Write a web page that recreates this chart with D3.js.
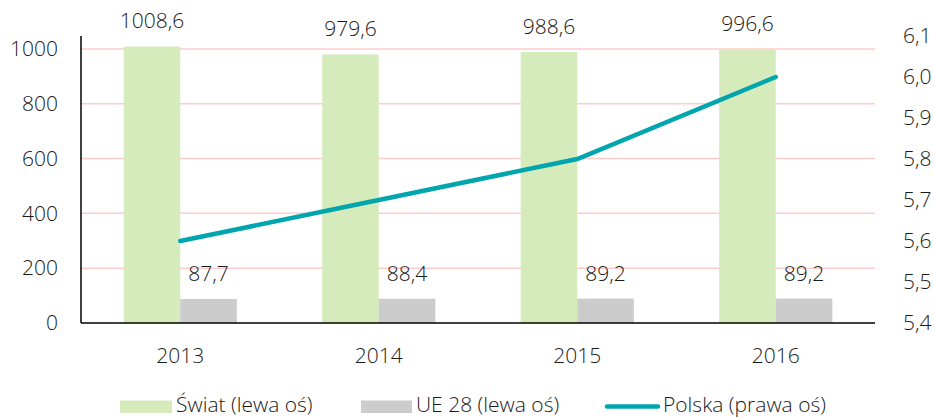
<!DOCTYPE html>
<html>
<head>
<meta charset="utf-8">
<script src="https://cdn.jsdelivr.net/npm/d3@7"></script>
<style>
  body { margin: 0; background: #fff; }
  text { font-family: "Open Sans", sans-serif; font-weight: 300; fill: #1a1a1a; }
</style>
</head>
<body>
<div id="chart"></div>
<script>
    const years = ['2013', '2014', '2015', '2016'];
    const swiat = [1008.6, 979.6, 988.6, 996.6];
    const ue28 = [87.7, 88.4, 89.2, 89.2];
    const polska = [5.6, 5.7, 5.8, 6.0];
    const leftTicks = [0, 200, 400, 600, 800, 1000];
    const rightTicks = [5.4, 5.5, 5.6, 5.7, 5.8, 5.9, 6.0, 6.1];

    const width = 934, height = 418;
    const margin = { top: 36, right: 59, bottom: 95, left: 81 };
    const fs = 21;

    const svg = d3.select('#chart')
      .append('svg')
      .attr('width', width)
      .attr('height', height);

    const x = d3.scaleBand()
      .domain(years)
      .range([margin.left, width - margin.right]);

    const barW = x.bandwidth() * 0.285;

    const yL = d3.scaleLinear()
      .domain([0, 1047])
      .range([height - margin.bottom, margin.top]);

    const yR = d3.scaleLinear()
      .domain([5.4, 6.1])
      .range([height - margin.bottom, margin.top]);

    const fmt = v => d3.format('.1f')(v).replace('.', ',');

    // gridlines
    svg.append('g')
      .selectAll('line')
      .data(leftTicks.slice(1))
      .join('line')
        .attr('x1', margin.left)
        .attr('x2', width - margin.right)
        .attr('y1', d => yL(d))
        .attr('y2', d => yL(d))
        .attr('stroke', '#ffcccc')
        .attr('stroke-width', 1.5);

    // bars
    svg.append('g')
      .selectAll('rect')
      .data(years)
      .join('rect')
        .attr('x', d => x(d) + x.bandwidth() / 2 - barW)
        .attr('y', (d, i) => yL(swiat[i]))
        .attr('width', barW)
        .attr('height', (d, i) => yL(0) - yL(swiat[i]))
        .attr('fill', '#d5ebbc');

    svg.append('g')
      .selectAll('rect')
      .data(years)
      .join('rect')
        .attr('x', d => x(d) + x.bandwidth() / 2)
        .attr('y', (d, i) => yL(ue28[i]))
        .attr('width', barW)
        .attr('height', (d, i) => yL(0) - yL(ue28[i]))
        .attr('fill', '#cccccc');

    // bar labels
    svg.append('g')
      .selectAll('text')
      .data(years)
      .join('text')
        .attr('x', d => x(d) + x.bandwidth() / 2 - barW / 2)
        .attr('y', (d, i) => yL(swiat[i]) - 18.5)
        .attr('text-anchor', 'middle')
        .style('font-size', fs + 'px')
        .text((d, i) => fmt(swiat[i]));

    svg.append('g')
      .selectAll('text')
      .data(years)
      .join('text')
        .attr('x', d => x(d) + x.bandwidth() / 2 + barW / 2)
        .attr('y', (d, i) => yL(ue28[i]) - 17.5)
        .attr('text-anchor', 'middle')
        .style('font-size', fs + 'px')
        .text((d, i) => fmt(ue28[i]));

    // axes lines
    svg.append('line')
      .attr('x1', margin.left).attr('x2', margin.left)
      .attr('y1', margin.top).attr('y2', yL(0))
      .attr('stroke', '#000').attr('stroke-width', 1.5);
    svg.append('line')
      .attr('x1', margin.left).attr('x2', width - margin.right)
      .attr('y1', yL(0)).attr('y2', yL(0))
      .attr('stroke', '#000').attr('stroke-width', 1.5);

    // line
    const line = d3.line()
      .x((d, i) => x(years[i]) + x.bandwidth() / 2)
      .y(d => yR(d));

    svg.append('path')
      .datum(polska)
      .attr('d', line)
      .attr('fill', 'none')
      .attr('stroke', '#00a5ad')
      .attr('stroke-width', 4.5)
      .attr('stroke-linecap', 'round');

    // left axis
    const axL = svg.append('g')
      .attr('transform', `translate(${margin.left},0)`)
      .call(d3.axisLeft(yL).tickValues(leftTicks).tickSize(0).tickPadding(23).tickFormat(d3.format('d')));
    axL.select('.domain').remove();
    axL.selectAll('text').style('font-size', fs + 'px').attr('fill', null);

    // right axis
    const axR = svg.append('g')
      .attr('transform', `translate(${width - margin.right},0)`)
      .call(d3.axisRight(yR).tickValues(rightTicks).tickSize(0).tickPadding(28).tickFormat(fmt));
    axR.select('.domain').remove();
    axR.selectAll('text').style('font-size', fs + 'px').attr('fill', null);

    // bottom axis
    const axB = svg.append('g')
      .attr('transform', `translate(0,${yL(0)})`)
      .call(d3.axisBottom(x).tickSize(0).tickPadding(25));
    axB.select('.domain').remove();
    axB.selectAll('text').style('font-size', fs + 'px').attr('fill', null);

    // legend
    const legY = 406.5;
    const leg = svg.append('g');
    leg.append('rect').attr('x', 120).attr('y', legY - 6).attr('width', 52).attr('height', 12.5).attr('fill', '#d5ebbc');
    leg.append('text').attr('x', 176).attr('y', legY + 5).style('font-size', fs + 'px').text('Świat (lewa oś)');
    leg.append('rect').attr('x', 361).attr('y', legY - 6).attr('width', 51).attr('height', 12.5).attr('fill', '#cccccc');
    leg.append('text').attr('x', 416).attr('y', legY + 5).style('font-size', fs + 'px').text('UE 28 (lewa oś)');
    leg.append('line').attr('x1', 607).attr('x2', 658).attr('y1', legY).attr('y2', legY)
      .attr('stroke', '#00a5ad').attr('stroke-width', 4.5).attr('stroke-linecap', 'round');
    leg.append('text').attr('x', 663).attr('y', legY + 5).style('font-size', fs + 'px').text('Polska (prawa oś)');
</script>
</body>
</html>
